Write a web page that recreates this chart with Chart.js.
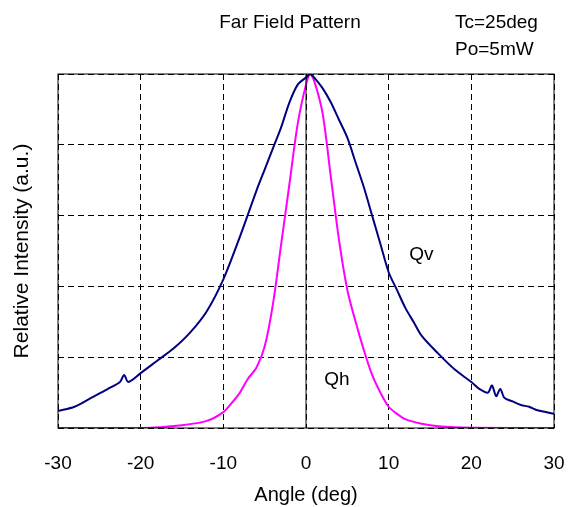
<!DOCTYPE html>
<html><head><script src="https://cdn.jsdelivr.net/npm/chart.js"></script>
<style>body{margin:0;background:#fff}#w{width:571px;height:507px}</style></head>
<body><div id="w"><canvas id="c"></canvas></div>
<script>
const qvX=[-30,-28,-26,-24,-22.5,-22,-21.5,-20,-18,-16,-14,-12,-10,-8,-6,-5,-4,-3,-2,-1,0,0.5,1,2,3,4,5,6,7,8,9,10,11,12,13,14,16,18,20,21,22,22.5,23,23.5,24,25,26,27,28,29,30];
const qvY=[0.048,0.06,0.085,0.11,0.13,0.15,0.13,0.155,0.19,0.225,0.27,0.33,0.42,0.54,0.67,0.73,0.79,0.85,0.92,0.97,0.99,1.0,0.99,0.96,0.92,0.87,0.82,0.75,0.68,0.6,0.52,0.44,0.39,0.34,0.30,0.26,0.21,0.165,0.13,0.11,0.10,0.12,0.09,0.11,0.085,0.075,0.065,0.06,0.05,0.045,0.04];
const qhX=[-30,-20,-15,-12,-10,-9,-8,-7,-6,-5,-4,-3,-2,-1,0,0.5,1,2,3,4,5,6,7,8,9,10,11,12,14,16,20,30];
const qhY=[0,0,0.008,0.02,0.045,0.07,0.1,0.14,0.17,0.23,0.35,0.52,0.69,0.86,0.97,1.0,0.98,0.89,0.71,0.53,0.39,0.3,0.22,0.15,0.1,0.06,0.04,0.025,0.012,0.005,0.001,0];
const xTicks=[-30,-20,-10,0,10,20,30];
const toPts=(xs,ys)=>xs.map((x,i)=>({x,y:ys[i]}));
const F='"Liberation Sans",Arial';
const txt={id:'txt',afterDraw(c){const g=c.ctx,x=c.scales.x,y=c.scales.y;g.save();g.fillStyle='#000';g.font='19px '+F;
g.textAlign='left';g.textBaseline='middle';g.fillText('Qv',x.getPixelForValue(12.5),y.getPixelForValue(0.49));g.fillText('Qh',x.getPixelForValue(2.2),y.getPixelForValue(0.135));
g.font='19px '+F;g.textAlign='center';g.fillText('Far Field Pattern',290,23);g.textAlign='left';g.fillText('Tc=25deg',455,23);g.fillText('Po=5mW',455,50);
g.strokeStyle='#000';g.lineWidth=1;const px=x.getPixelForValue(0);g.beginPath();g.moveTo(px,y.top);g.lineTo(px,y.bottom);g.stroke();
g.strokeRect(x.left,y.top,x.right-x.left,y.bottom-y.top);g.restore();}};
new Chart(document.getElementById('c'),{type:'line',data:{datasets:[
{data:toPts(qvX,qvY),borderColor:'#000080',borderWidth:2,pointRadius:0,tension:0.3},
{data:toPts(qhX,qhY),borderColor:'#ff00ff',borderWidth:2,pointRadius:0,tension:0.3}]},
options:{animation:false,responsive:true,maintainAspectRatio:false,layout:{padding:{top:74,right:17,bottom:0}},
plugins:{legend:{display:false},tooltip:{enabled:false}},
scales:{x:{type:'linear',min:-30,max:30,afterBuildTicks:a=>{a.ticks=xTicks.map(v=>({value:v}))},afterFit:s=>{s.height=79;s.paddingRight=0;s.paddingLeft=0},
grid:{color:'#000',drawTicks:false,lineWidth:1},border:{display:false,dash:[6,4]},
ticks:{color:'#000',font:{size:19,family:F},padding:24},
title:{display:true,text:'Angle (deg)',color:'#000',font:{size:20,family:F},padding:{top:4,bottom:0}}},
y:{min:0,max:1,afterFit:s=>{s.width=58},ticks:{stepSize:0.2,display:false},grid:{color:'#000',drawTicks:false},border:{display:false,dash:[6,4]},
title:{display:true,text:'Relative Intensity (a.u.)',color:'#000',font:{size:21,family:F},padding:{top:10,bottom:30}}}}},
plugins:[txt]});
</script></body></html>
